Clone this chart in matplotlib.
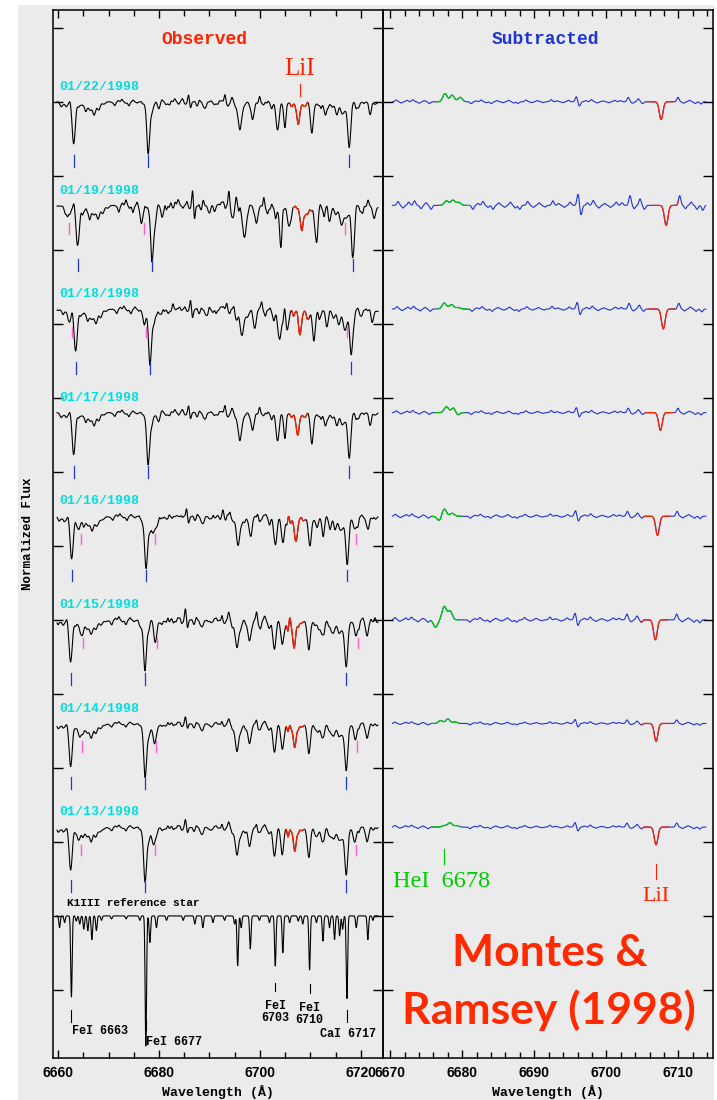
import numpy as np
import matplotlib.pyplot as plt
from matplotlib.patches import Rectangle
from matplotlib.ticker import MultipleLocator

# ---- reference star (K1III) line list ----
ref_wl = [6660.3, 6661.3, 6662.65, 6663.6, 6664.3, 6665.1, 6665.9, 6666.7, 6667.6, 6668.6,
          6670.6, 6673.5, 6676.2, 6677.4, 6678.2, 6679.5, 6681.5, 6684.8, 6687.1, 6688.7,
          6690.7, 6693.0, 6695.0, 6695.6, 6696.3, 6698.1, 6699.9, 6701.9, 6703.05, 6704.55,
          6705.9, 6707.6, 6708.5, 6709.85, 6711.2, 6712.5, 6713.8, 6714.8, 6715.8, 6716.4,
          6717.25, 6719.1, 6721.4, 6722.4]
ref_depth = [0.08, 0.045, 0.55, 0.035, 0.055, 0.09, 0.10, 0.16, 0.10, 0.03,
             0.02, 0.02, 0.03, 0.88, 0.18, 0.08, 0.03, 0.03, 0.055, 0.08,
             0.045, 0.03, 0.055, 0.34, 0.08, 0.225, 0.03, 0.045, 0.34, 0.25,
             0.045, 0.035, 0.055, 0.365, 0.045, 0.17, 0.08, 0.16, 0.135, 0.09,
             0.56, 0.08, 0.16, 0.03]
ref_level = 1.0

# ---- observing nights ----
dates = ['01/22/1998', '01/19/1998', '01/18/1998', '01/17/1998',
         '01/16/1998', '01/15/1998', '01/14/1998', '01/13/1998']
levels = [6.5, 5.8, 5.1, 4.4, 3.7, 3.0, 2.3, 1.6]
prim_shift = [0.46, 1.25, 0.85, 0.46, 0.06, -0.14, -0.14, -0.14]
sec_shift = [None, -0.85, -0.3, None, 1.45, 1.85, 1.65, 1.45]
noise_scale = [1.0, 2.2, 1.3, 1.0, 1.1, 1.3, 0.8, 0.9]

# subtracted spectra: LiI absorption and HeI 6678 emission features
li_wl = [6707.6, 6708.3, 6707.9, 6707.5, 6707.1, 6706.8, 6706.9, 6706.9]
li_depth = [0.12, 0.135, 0.135, 0.12, 0.13, 0.135, 0.12, 0.12]
hei_wl = [[6677.6, 6678.6, 6679.7],
          [6677.8, 6678.7, 6679.5],
          [6677.5, 6678.5, 6679.4],
          [6677.8, 6678.8, 6679.3],
          [6676.8, 6677.5, 6678.6],
          [6676.3, 6677.5, 6678.3],
          [6677.0, 6678.0, 6679.0],
          [6677.5, 6678.3, 6679.2]]
hei_amp = [[0.055, 0.045, 0.03],
           [0.03, 0.035, 0.02],
           [0.04, 0.03, 0.01],
           [0.04, 0.035, -0.02],
           [-0.03, 0.05, 0.02],
           [-0.05, 0.09, 0.06],
           [0.02, 0.03, 0.01],
           [0.01, 0.03, 0.01]]
# small residual ripples
wig_wl = [6670.7, 6671.4, 6672.2, 6673.0, 6673.9, 6674.6, 6675.3, 6681.1, 6681.8, 6682.5,
          6683.2, 6683.9, 6684.7, 6685.5, 6686.3, 6687.0, 6687.6, 6688.7, 6689.5, 6690.3,
          6691.1, 6692.2, 6693.0, 6693.8, 6694.6, 6695.7, 6696.1, 6697.0, 6697.8, 6698.6,
          6699.4, 6700.2, 6701.0, 6701.8, 6702.9, 6703.5, 6704.3, 6704.9, 6709.8, 6710.6,
          6711.4, 6712.2, 6713.0]
wig_amp = [0.012, -0.008, 0.01, 0.014, -0.01, 0.008, -0.012, -0.012, 0.006, 0.012,
           -0.006, -0.012, 0.008, -0.006, 0.01, -0.008, -0.012, 0.012, -0.006, 0.008,
           -0.005, 0.014, 0.006, -0.006, 0.01, 0.035, -0.03, 0.008, 0.015, -0.008,
           0.006, -0.006, 0.01, 0.008, 0.03, -0.01, 0.02, -0.012, 0.03, -0.01,
           0.01, -0.012, -0.015]

# marked lines (blue = primary, pink = secondary)
mark_wl = [6662.65, 6677.4, 6717.25]


def profile(x, centers, amps, sigma):
    y = np.zeros_like(x)
    for c, a in zip(centers, amps):
        y += a * np.exp(-0.5 * ((x - c) / sigma) ** 2)
    return y


fig = plt.figure(figsize=(7.17, 11.0), dpi=100, facecolor='white')
fig.patches.append(Rectangle((18 / 717, 0), 696 / 717, 1095 / 1100, transform=fig.transFigure,
                             facecolor='#ebebeb', edgecolor='none', zorder=-10))

axL = fig.add_axes([53 / 717, 42 / 1100, 330 / 717, 1048 / 1100])
axR = fig.add_axes([383 / 717, 42 / 1100, 330 / 717, 1048 / 1100])

mono = 'Liberation Mono'
serif = 'Liberation Serif'
blue = '#1f35d6'
red = '#ff2200'
green = '#00cc00'
cyan = '#00dede'
pink = '#ff5fcf'

# ---------------- observed panel ----------------
xl = np.linspace(6659.8, 6723.4, 1400)
ref_flux = ref_level - profile(xl, ref_wl, ref_depth, 0.14)
axL.plot(xl, ref_flux, color='black', lw=0.8)

obs_depth = np.minimum(0.55 * np.array(ref_depth), 0.36)
for i in range(len(dates)):
    s = prim_shift[i]
    f = levels[i] - profile(xl, np.array(ref_wl) + s, obs_depth, 0.3)
    if sec_shift[i] is not None:
        f -= profile(xl, np.array(ref_wl) + sec_shift[i], 0.12 * np.array(ref_depth), 0.3)
    f -= profile(xl, [li_wl[i]], [li_depth[i] + 0.03], 0.28)
    f += profile(xl, hei_wl[i], 0.6 * np.array(hei_amp[i]), 0.3)
    f += profile(xl, np.array(wig_wl) - 10.3 + s, 1.4 * noise_scale[i] * np.array(wig_amp), 0.16)
    f += profile(xl, np.array(wig_wl) + 9.7 - s, -1.2 * noise_scale[i] * np.array(wig_amp), 0.16)
    axL.plot(xl, f, color='black', lw=0.8)
    m = (xl >= li_wl[i] - 1.7) & (xl <= li_wl[i] + 1.9)
    axL.plot(xl[m], f[m], color=red, lw=0.9)
    for w in mark_wl:
        axL.plot([w + s, w + s], [levels[i] - 0.36, levels[i] - 0.44], color=blue, lw=0.9)
        if sec_shift[i] is not None:
            ws = w + sec_shift[i] + 0.4
            axL.plot([ws, ws], [levels[i] - 0.12, levels[i] - 0.19], color=pink, lw=1.0)
    axL.text(6660.2, levels[i] + 0.1, dates[i], color=cyan, fontsize=9.5, family=mono,
             fontweight='bold', va='center', ha='left')

axL.text(6689, 6.92, 'Observed', color=red, fontsize=13, family=mono, fontweight='bold',
         ha='center', va='center')
axL.text(6707.9, 6.72, 'LiI', color=red, fontsize=18, family=serif, ha='center', va='center')
axL.plot([6707.9, 6707.9], [6.54, 6.62], color=red, lw=0.8)

axL.text(6661.8, 1.09, 'K1III reference star', color='black', fontsize=8, family=mono,
         fontweight='bold', ha='left', va='center')

# line identifications under the reference star
id_wl = [6662.65, 6677.4, 6703.05, 6709.85, 6717.25]
id_y = [(-0.635, -0.715), (-0.70, -0.77), (-0.45, -0.51), (-0.46, -0.52), (-0.635, -0.715)]
for w, (y0, y1) in zip(id_wl, id_y):
    axL.plot([w, w], [ref_level + y0, ref_level + y1], color='black', lw=0.8)
axL.text(6662.8, 0.22, 'FeI 6663', fontsize=8.5, family=mono, fontweight='bold', va='center')
axL.text(6677.4, 0.15, 'FeI 6677', fontsize=8.5, family=mono, fontweight='bold', va='center')
axL.text(6703.05, 0.35, 'FeI\n6703', fontsize=8.5, family=mono, fontweight='bold',
         va='center', ha='center', linespacing=1.0)
axL.text(6709.85, 0.34, 'FeI\n6710', fontsize=8.5, family=mono, fontweight='bold',
         va='center', ha='center', linespacing=1.0)
axL.text(6723.1, 0.20, 'CaI 6717', fontsize=8.5, family=mono, fontweight='bold',
         va='center', ha='right')

axL.set_xlim(6659.0, 6724.4)
axL.xaxis.set_major_locator(MultipleLocator(20))
axL.xaxis.set_minor_locator(MultipleLocator(5))

# ---------------- subtracted panel ----------------
xr = np.linspace(6670.3, 6713.8, 1000)
for i in range(len(dates)):
    s = prim_shift[i]
    f = levels[i] - profile(xr, [li_wl[i]], [li_depth[i]], 0.25)
    f += profile(xr, hei_wl[i], hei_amp[i], 0.3)
    f += profile(xr, np.array(wig_wl) + 0.3 * s, noise_scale[i] * np.array(wig_amp), 0.16)
    axR.plot(xr, f, color=blue, lw=0.8)
    g = (xr >= 6675.8 + s) & (xr <= 6679.8 + s)
    axR.plot(xr[g], f[g], color=green, lw=0.9)
    r = (xr >= li_wl[i] - 2.0) & (xr <= li_wl[i] + 1.7)
    axR.plot(xr[r], f[r], color=red, lw=0.9)

axR.text(6691.5, 6.92, 'Subtracted', color=blue, fontsize=13, family=mono, fontweight='bold',
         ha='center', va='center')
axR.plot([6677.4, 6677.4], [1.45, 1.35], color=green, lw=0.9)
axR.text(6670.4, 1.23, 'HeI  6678', color=green, fontsize=17.5, family=serif, ha='left', va='center')
axR.plot([6706.9, 6706.9], [1.35, 1.25], color=red, lw=0.8)
axR.text(6706.9, 1.13, 'LiI', color=red, fontsize=16, family=serif, ha='center', va='center')

axR.text(6692.2, 0.75, 'Montes &', color='#ff2a00', fontsize=32, family='Lato',
         fontweight='bold', ha='center', va='center')
axR.text(6692.0, 0.36, 'Ramsey (1998)', color='#ff2a00', fontsize=32, family='Lato',
         fontweight='bold', ha='center', va='center')

axR.set_xlim(6669.0, 6714.8)
axR.xaxis.set_major_locator(MultipleLocator(10))
axR.xaxis.set_minor_locator(MultipleLocator(2))

# ---------------- common styling ----------------
for ax in (axL, axR):
    ax.set_facecolor('none')
    ax.set_ylim(0.04, 7.12)
    ax.yaxis.set_major_locator(MultipleLocator(0.5))
    ax.tick_params(which='both', direction='in', top=True, right=True, left=True, bottom=True,
                   labelleft=False, width=1.0, color='black')
    ax.tick_params(which='major', length=6)
    ax.tick_params(which='minor', length=4.5)
    ax.tick_params(axis='y', which='major', length=7)
    for lab in ax.get_xticklabels():
        lab.set_fontweight('bold')
        lab.set_family('Liberation Sans')
        lab.set_fontsize(10)
    ax.tick_params(axis='x', pad=6)
    for sp in ax.spines.values():
        sp.set_linewidth(1.1)
    ax.set_xlabel('Wavelength (Å)', family=mono, fontweight='bold', fontsize=9.5, labelpad=3)

axL.set_ylabel('Normalized Flux', family=mono, fontweight='bold', fontsize=9, labelpad=14)

fig.savefig('out.png', dpi=100, facecolor=fig.get_facecolor())
